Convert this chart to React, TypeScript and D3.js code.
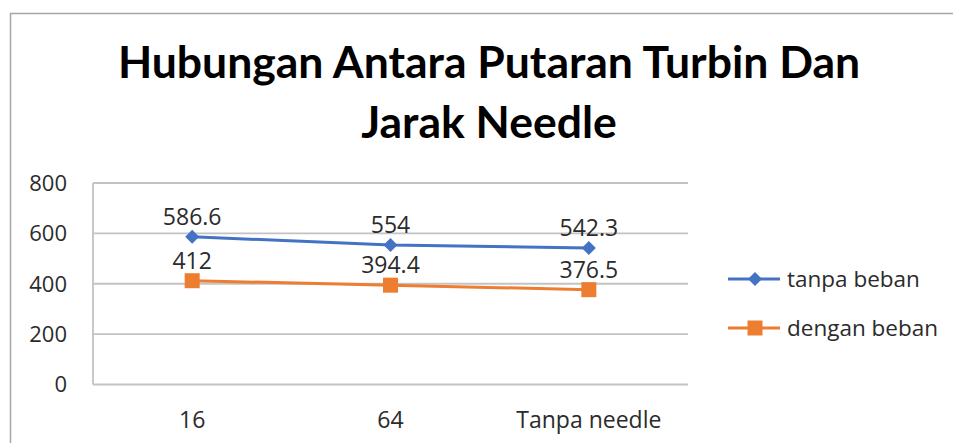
import React from "react";
import * as d3 from "d3";

const categories = ["16", "64", "Tanpa needle"];
const tanpaBeban = [586.6, 554, 542.3];
const denganBeban = [412, 394.4, 376.5];
const yTicks = [0, 200, 400, 600, 800];
const seriesNames = ["tanpa beban", "dengan beban"];
const titleLines = ["Hubungan Antara Putaran Turbin Dan", "Jarak Needle"];

const W = 953;
const H = 443;
const TFONT = "Lato, 'Open Sans', sans-serif";
const FONT = "'Open Sans', Lato, sans-serif";

export default function App() {
  const x = d3.scaleBand<string>().domain(categories).range([93, 688]);
  const y = d3.scaleLinear().domain([0, 800]).range([384.5, 183]);
  const cx = (c: string) => (x(c) as number) + x.bandwidth() / 2;
  const line = d3
    .line<number>()
    .x((_, i) => cx(categories[i]))
    .y((d) => y(d));

  const series = [
    { name: seriesNames[0], values: tanpaBeban, color: "#4472C4", marker: "diamond" },
    { name: seriesNames[1], values: denganBeban, color: "#ED7D31", marker: "square" },
  ];

  const marker = (m: string, px: number, py: number, color: string, key: any) =>
    m === "diamond" ? (
      <path key={key} d={`M${px},${py - 7}L${px + 7},${py}L${px},${py + 7}L${px - 7},${py}Z`} fill={color} />
    ) : (
      <rect key={key} x={px - 7.5} y={py - 7.5} width={15} height={15} fill={color} />
    );

  return (
    <div style={{ position: "absolute", left: 0, top: 0 }}>
      <svg width={W} height={H} style={{ display: "block", background: "#fff" }}>
        <path d={`M10.5,${H}V13.5H${W}`} fill="none" stroke="#a6a6a6" strokeWidth={1.5} />
        {titleLines.map((t, i) => (
          <text
            key={t}
            x={489}
            y={78 + i * 60}
            textAnchor="middle"
            fontFamily={TFONT}
            fontWeight={700}
            fontSize={44.5}
            fill="#000"
          >
            {t}
          </text>
        ))}
        {yTicks.map((t) => (
          <g key={t}>
            <line x1={93} x2={688} y1={y(t)} y2={y(t)} stroke="#c3c3c3" strokeWidth={1.8} />
            <text x={67} y={y(t)} dy="0.36em" textAnchor="end" fontFamily={FONT} fontSize={22} fill="#2b2b2b">
              {t}
            </text>
          </g>
        ))}
        <line x1={93} x2={93} y1={y(800)} y2={y(0)} stroke="#c3c3c3" strokeWidth={1.8} />
        {categories.map((c) => (
          <text key={c} x={cx(c)} y={428} textAnchor="middle" fontFamily={FONT} fontSize={23} fill="#2b2b2b">
            {c}
          </text>
        ))}
        {series.map((s) => (
          <g key={s.name}>
            <path d={line(s.values) as string} fill="none" stroke={s.color} strokeWidth={3} />
            {s.values.map((v, i) => marker(s.marker, cx(categories[i]), y(v), s.color, i))}
            {s.values.map((v, i) => (
              <text
                key={"l" + i}
                x={cx(categories[i])}
                y={y(v) - 12}
                textAnchor="middle"
                fontFamily={FONT}
                fontSize={23}
                fill="#2b2b2b"
              >
                {v}
              </text>
            ))}
          </g>
        ))}
        {series.map((s, i) => {
          const ly = 279 + i * 49;
          return (
            <g key={"lg" + s.name}>
              <line x1={728} x2={780} y1={ly} y2={ly} stroke={s.color} strokeWidth={3} />
              {marker(s.marker, 755, ly, s.color, "m")}
              <text x={787} y={ly} dy="0.35em" fontFamily={FONT} fontSize={22.5} fill="#2b2b2b">
                {s.name}
              </text>
            </g>
          );
        })}
      </svg>
    </div>
  );
}
